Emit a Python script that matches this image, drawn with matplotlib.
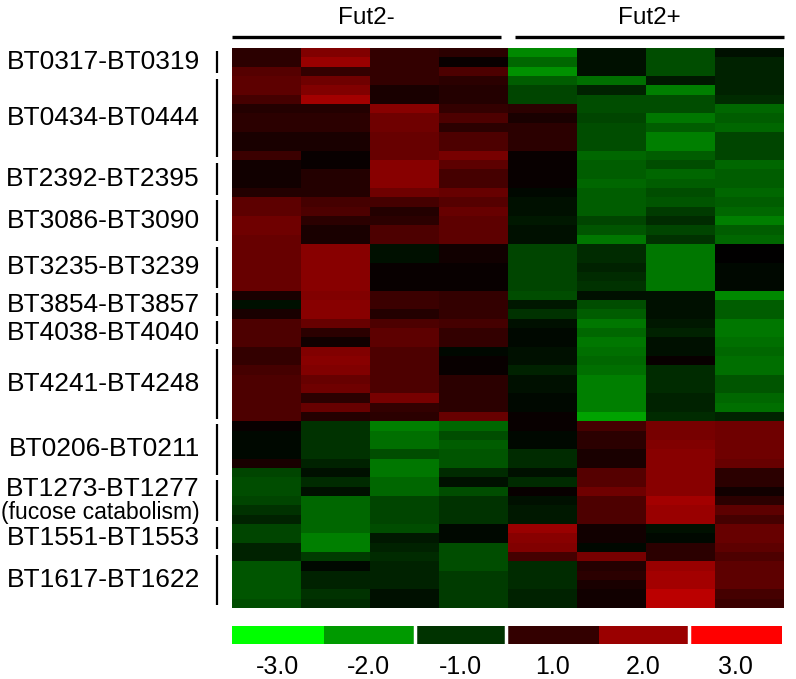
import numpy as np
import matplotlib
matplotlib.use("Agg")
import matplotlib.pyplot as plt
from matplotlib.colors import LinearSegmentedColormap, ListedColormap
from matplotlib import transforms

plt.rcParams["font.family"] = ["Liberation Sans", "DejaVu Sans"]

# gene clusters (top to bottom) and number of heatmap rows in each
group_labels = ["BT0317-BT0319", "BT0434-BT0444", "BT2392-BT2395", "BT3086-BT3090",
                "BT3235-BT3239", "BT3854-BT3857", "BT4038-BT4040", "BT4241-BT4248",
                "BT0206-BT0211", "BT1273-BT1277", "BT1551-BT1553", "BT1617-BT1622"]
group_sizes = [3, 9, 4, 5, 5, 3, 3, 8, 6, 5, 3, 6]
group_notes = {"BT1273-BT1277": "(fucose catabolism)"}

conditions = ["Fut2-", "Fut2+"]

# log ratios, 4 replicates per condition
fut2_minus = [
    [0.5, 1.5, 0.6, 0.5], [0.5, 1.8, 0.6, 0.1], [1.0, 0.6, 0.6, 0.9],
    [1.1, 1.3, 0.6, 0.5], [1.1, 1.5, 0.3, 0.4], [0.8, 1.9, 0.3, 0.4],
    [0.4, 0.4, 1.6, 0.6], [0.5, 0.5, 1.3, 0.9], [0.5, 0.5, 1.3, 0.5],
    [0.3, 0.3, 1.2, 0.9], [0.3, 0.3, 1.2, 0.9], [0.7, 0.1, 1.2, 1.4],
    [0.2, 0.1, 1.6, 1.1], [0.2, 0.4, 1.6, 0.8], [0.2, 0.4, 1.6, 0.8],
    [0.4, 0.4, 1.3, 1.2], [1.1, 0.8, 0.8, 1.0], [1.1, 0.9, 0.4, 1.2],
    [1.3, 0.5, 0.5, 1.1], [1.3, 0.3, 0.9, 1.1], [1.2, 0.3, 0.9, 1.1],
    [1.2, 1.6, -0.2, 0.2], [1.2, 1.6, -0.2, 0.2], [1.2, 1.6, 0.1, 0.1],
    [1.2, 1.6, 0.1, 0.1], [1.2, 1.6, 0.1, 0.1], [0.3, 1.5, 0.7, 0.6],
    [-0.2, 1.6, 0.7, 0.6], [0.3, 1.6, 0.4, 0.6], [0.9, 1.2, 0.9, 0.8],
    [0.9, 0.5, 1.1, 0.6], [0.9, 0.2, 1.1, 0.6], [0.6, 1.5, 0.9, -0.1],
    [0.6, 1.6, 0.9, 0.1], [0.8, 1.5, 0.9, 0.1], [0.9, 1.2, 0.9, 0.5],
    [0.9, 1.3, 0.9, 0.5], [0.9, 0.5, 1.4, 0.5], [0.9, 1.2, 0.6, 0.5],
    [0.9, 0.4, 0.5, 1.2], [0.1, -0.6, -1.5, -1.2], [-0.1, -0.6, -1.3, -0.9],
    [-0.1, -0.6, -1.3, -1.1], [-0.1, -0.6, -0.9, -1.0], [0.3, -0.4, -1.4, -1.0],
    [-0.8, -0.2, -1.4, -0.5], [-0.9, -0.5, -1.2, -0.2], [-0.9, -0.2, -1.2, -0.9],
    [-0.8, -1.2, -0.8, -0.6], [-0.6, -1.2, -0.8, -0.6], [-0.4, -1.2, -0.8, -0.6],
    [-0.8, -1.2, -0.9, -0.1], [-0.8, -1.5, -0.3, -0.1], [-0.4, -1.5, -0.4, -0.9],
    [-0.4, -0.7, -0.5, -0.9], [-1.0, -0.1, -0.4, -0.9], [-1.0, -0.4, -0.4, -0.7],
    [-1.0, -0.4, -0.4, -0.7], [-1.0, -0.6, -0.2, -0.7], [-0.9, -0.5, -0.2, -0.7],
]

fut2_plus = [
    [-1.6, -0.2, -0.9, -0.2], [-1.2, -0.2, -0.9, -0.4], [-1.7, -0.2, -0.9, -0.4],
    [-1.1, -1.3, -0.3, -0.4], [-0.8, -0.4, -1.5, -0.4], [-0.8, -0.9, -0.9, -0.5],
    [0.5, -0.9, -0.9, -1.2], [0.3, -0.8, -1.4, -1.1], [0.5, -0.9, -1.1, -1.2],
    [0.5, -0.9, -1.5, -0.8], [0.5, -0.9, -1.5, -0.8], [0.1, -1.2, -1.1, -0.8],
    [0.1, -1.1, -0.9, -1.2], [0.1, -1.1, -1.2, -1.1], [0.1, -1.2, -1.1, -1.1],
    [-0.1, -1.1, -0.9, -1.2], [-0.2, -1.1, -1.0, -1.1], [-0.2, -1.1, -0.7, -1.2],
    [-0.3, -0.8, -0.5, -1.5], [-0.2, -1.0, -0.8, -1.1], [-0.2, -1.4, -0.6, -1.2],
    [-0.8, -0.5, -1.4, 0.0], [-0.8, -0.5, -1.4, 0.0], [-0.8, -0.4, -1.4, -0.1],
    [-0.8, -0.5, -1.4, -0.1], [-0.8, -0.6, -1.4, -0.1], [-0.9, -0.2, -0.2, -1.6],
    [-0.3, -0.9, -0.2, -1.1], [-0.6, -1.1, -0.2, -1.1], [-0.2, -1.4, -0.3, -1.4],
    [-0.1, -1.2, -0.4, -1.4], [-0.1, -1.4, -0.2, -1.3], [-0.2, -1.3, -0.2, -1.2],
    [-0.2, -1.2, 0.1, -1.3], [-0.4, -1.3, -0.5, -1.3], [-0.2, -1.5, -0.5, -1.0],
    [-0.2, -1.5, -0.5, -1.0], [-0.1, -1.5, -0.4, -1.2], [-0.1, -1.5, -0.4, -1.3],
    [0.1, -1.9, -0.5, -0.4], [0.1, 0.8, 1.4, 1.3], [-0.1, 0.5, 1.4, 1.3],
    [-0.1, 0.5, 1.5, 1.3], [-0.5, 0.3, 1.6, 1.3], [-0.5, 0.3, 1.6, 1.2],
    [-0.2, 1.0, 1.6, 0.5], [-0.5, 1.0, 1.6, 0.5], [0.1, 1.3, 1.6, 0.2],
    [-0.2, 0.9, 1.9, 0.5], [-0.3, 0.9, 1.8, 1.1], [-0.3, 0.9, 1.8, 0.8],
    [1.8, 0.2, -0.2, 1.2], [1.6, 0.2, -0.1, 1.2], [1.5, -0.1, 0.5, 1.1],
    [0.8, 1.4, 0.5, 0.9], [-0.5, 0.4, 1.8, 1.1], [-0.5, 0.5, 1.9, 1.1],
    [-0.5, 0.3, 1.9, 1.1], [-0.4, 0.2, 2.2, 0.8], [-0.4, 0.2, 2.2, 0.7],
]

# colour key
key_values = [-3.0, -2.0, -1.0, 1.0, 2.0, 3.0]
key_colors = ["#00ff00", "#009a00", "#003300", "#330000", "#9a0000", "#ff0000"]

matrix = np.hstack([np.array(fut2_minus), np.array(fut2_plus)])
n_rows, n_cols = matrix.shape

cmap = LinearSegmentedColormap.from_list("gbr", ["#00ff00", "#000000", "#ff0000"])

fig = plt.figure(figsize=(7.96, 6.79), dpi=100)
ax = fig.add_axes([232 / 796, 1 - 608 / 679, 552 / 796, 560 / 679])
ax.imshow(matrix, cmap=cmap, vmin=-3, vmax=3, aspect="auto", interpolation="nearest")
ax.set_xlim(-0.5, n_cols - 0.5)
ax.set_ylim(n_rows - 0.5, -0.5)
ax.axis("off")

# condition headers
half = n_cols // 2
trans = transforms.blended_transform_factory(ax.transData, ax.transAxes)
for i, name in enumerate(conditions):
    x0 = i * half - 0.5 + (0.1 if i else 0)
    x1 = (i + 1) * half - 0.5 - (0 if i else 0.1)
    ax.plot([x0, x1], [1.0196, 1.0196], color="black", lw=2.4,
            transform=trans, clip_on=False, solid_capstyle="butt")
    ax.text((x0 + x1) / 2, 1.054, name, transform=trans, ha="center",
            va="center", fontsize=17.5)

# cluster labels and brackets
trans_y = transforms.blended_transform_factory(ax.transAxes, ax.transData)
start = 0
for label, size in zip(group_labels, group_sizes):
    top = start - 0.5
    bottom = start + size - 0.5
    ax.plot([-0.027, -0.027], [top + 0.3, bottom - 0.3], color="black", lw=1.6,
            transform=trans_y, clip_on=False, solid_capstyle="butt")
    mid = (top + bottom) / 2
    if label in group_notes:
        ax.text(-0.058, mid - 1.3, label, transform=trans_y, ha="right",
                va="center", fontsize=19)
        ax.text(-0.058, mid + 1.25, group_notes[label], transform=trans_y,
                ha="right", va="center", fontsize=16.5)
    else:
        ax.text(-0.058, mid, label, transform=trans_y, ha="right",
                va="center", fontsize=19)
    start += size

# discrete colour key
cax = fig.add_axes([231.5 / 796, 1 - 644 / 679, 549.5 / 796, 18 / 679])
cax.imshow([list(range(len(key_values)))], cmap=ListedColormap(key_colors),
           aspect="auto", interpolation="nearest")
cax.set_xlim(-0.5, len(key_values) - 0.5)
for gap in [1.5, 2.5, 4.5]:
    cax.axvline(gap, color="white", lw=2.5)
ktrans = transforms.blended_transform_factory(cax.transData, cax.transAxes)
for i, v in enumerate(key_values):
    cax.text(i, -1.25, f"{v:.1f}", transform=ktrans, ha="center",
             va="center", fontsize=18)
cax.axis("off")

fig.savefig("out.png", dpi=100)
